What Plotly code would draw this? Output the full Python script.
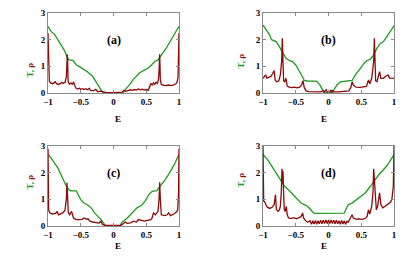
import plotly.graph_objects as go

# ---------------- data ----------------
# Panel (a)
E_T_a = [-1.0, -0.95, -0.90, -0.85, -0.80, -0.75, -0.71, -0.68, -0.62, -0.57, -0.52, -0.45, -0.40,
         -0.32, -0.27, -0.22, -0.19, -0.16, 0.0, 0.14, 0.17, 0.21, 0.25, 0.30, 0.36, 0.40, 0.47, 0.52,
         0.58, 0.63, 0.68, 0.72, 0.76, 0.80, 0.85, 0.90, 0.95, 1.0]
T_a = [2.50, 2.30, 2.20, 2.00, 1.80, 1.60, 1.35, 1.24, 1.22, 1.06, 0.99, 0.88, 0.80,
       0.63, 0.45, 0.25, 0.12, 0.0, 0.0, 0.0, 0.10, 0.20, 0.32, 0.50, 0.66, 0.76, 0.86, 0.92,
       1.05, 1.18, 1.24, 1.40, 1.52, 1.66, 1.86, 2.05, 2.27, 2.50]
E_rho_a = [-1.0, -0.995, -0.99, -0.98, -0.96, -0.93, -0.91, -0.89, -0.87, -0.84, -0.81, -0.79, -0.77,
           -0.74, -0.72, -0.71, -0.705, -0.70, -0.695, -0.69, -0.67, -0.65, -0.63, -0.61, -0.60,
           -0.58, -0.55, -0.52, -0.50, -0.47, -0.45, -0.42, -0.40, -0.37, -0.35, -0.30, -0.27,
           -0.24, -0.20, -0.16, -0.12, 0.0, 0.10, 0.13, 0.16, 0.19, 0.22, 0.26, 0.29, 0.32, 0.35,
           0.38, 0.41, 0.44, 0.47, 0.50, 0.53, 0.55, 0.57, 0.59, 0.61, 0.63, 0.65, 0.67, 0.685,
           0.695, 0.705, 0.71, 0.715, 0.73, 0.76, 0.80, 0.84, 0.88, 0.92, 0.95, 0.97, 0.985, 0.993, 1.0]
rho_a = [2.25, 1.20, 0.60, 0.45, 0.38, 0.35, 0.38, 0.42, 0.35, 0.32, 0.35, 0.40, 0.36,
         0.40, 0.60, 1.10, 1.45, 1.20, 0.60, 0.40, 0.33, 0.38, 0.33, 0.40, 0.35,
         0.20, 0.15, 0.18, 0.14, 0.16, 0.13, 0.16, 0.12, 0.17, 0.10, 0.09, 0.14,
         0.05, 0.07, 0.03, 0.02, 0.01, 0.02, 0.03, 0.10, 0.06, 0.09, 0.12, 0.10, 0.13, 0.11,
         0.15, 0.12, 0.14, 0.11, 0.13, 0.10, 0.20, 0.35, 0.30, 0.38, 0.32, 0.40, 0.36, 0.48,
         0.80, 1.45, 1.00, 0.50, 0.33, 0.29, 0.28, 0.30, 0.28, 0.30, 0.35, 0.40, 0.60, 1.20, 2.25]

# Panel (b)
E_T_b = [-1.0, -0.95, -0.90, -0.87, -0.80, -0.75, -0.70, -0.65, -0.60, -0.55, -0.50, -0.45, -0.40,
         -0.37, -0.32, -0.18, -0.13, -0.09, -0.065, 0.06, 0.08, 0.13, 0.18, 0.36, 0.41, 0.49, 0.54,
         0.59, 0.64, 0.69, 0.74, 0.79, 0.84, 0.89, 0.94, 1.0]
T_b = [2.55, 2.36, 2.18, 2.00, 1.93, 1.74, 1.49, 1.30, 1.22, 1.18, 1.05, 0.86, 0.62,
       0.47, 0.45, 0.44, 0.30, 0.11, 0.0, 0.0, 0.11, 0.30, 0.42, 0.47, 0.68, 0.93, 1.11,
       1.22, 1.27, 1.43, 1.68, 1.86, 1.93, 2.11, 2.30, 2.52]
E_rho_b = [-1.0, -0.98, -0.96, -0.94, -0.91, -0.88, -0.85, -0.83, -0.815, -0.79, -0.76, -0.735,
           -0.715, -0.705, -0.695, -0.685, -0.67, -0.65, -0.63, -0.60, -0.56, -0.52, -0.48, -0.44,
           -0.41, -0.39, -0.37, -0.34, -0.30, -0.20, -0.12, -0.08, -0.065, -0.035, -0.02, 0.0,
           0.02, 0.035, 0.05, 0.065, 0.08, 0.15, 0.25, 0.31, 0.34, 0.36, 0.38, 0.42, 0.48, 0.54,
           0.58, 0.61, 0.63, 0.66, 0.69, 0.70, 0.71, 0.72, 0.74, 0.76, 0.78, 0.80, 0.84, 0.87,
           0.91, 0.93, 0.96, 1.0]
rho_b = [0.55, 0.60, 0.68, 0.56, 0.58, 0.62, 0.74, 0.84, 0.50, 0.42, 0.45, 0.68,
         1.20, 2.05, 1.20, 0.45, 0.42, 0.55, 0.26, 0.22, 0.20, 0.22, 0.19, 0.22,
         0.30, 0.46, 0.20, 0.08, 0.05, 0.05, 0.04, 0.10, 0.03, 0.12, 0.03, 0.02,
         0.03, 0.12, 0.03, 0.10, 0.04, 0.04, 0.05, 0.08, 0.20, 0.42, 0.30, 0.22, 0.21, 0.22,
         0.25, 0.49, 0.35, 0.55, 1.20, 2.05, 1.20, 0.45, 0.42, 0.61, 0.80, 0.55, 0.55, 0.62,
         0.68, 0.56, 0.55, 0.55]

# Panel (c)
E_T_c = [-1.0, -0.95, -0.90, -0.85, -0.80, -0.75, -0.72, -0.68, -0.65, -0.57, -0.55, -0.50, -0.45,
         -0.39, -0.34, -0.29, -0.24, -0.19, -0.14, -0.12, 0.10, 0.13, 0.21, 0.28, 0.36, 0.43, 0.49,
         0.54, 0.59, 0.66, 0.71, 0.79, 0.87, 0.94, 1.0]
T_c = [2.70, 2.55, 2.36, 2.18, 1.93, 1.68, 1.49, 1.36, 1.32, 1.32, 1.24, 0.99, 0.86,
       0.78, 0.68, 0.49, 0.36, 0.24, 0.07, 0.0, 0.0, 0.14, 0.30, 0.49, 0.68, 0.78, 0.96,
       1.18, 1.30, 1.33, 1.49, 1.74, 2.05, 2.36, 2.70]
E_rho_c = [-1.0, -0.995, -0.99, -0.97, -0.93, -0.88, -0.86, -0.84, -0.80, -0.77, -0.74, -0.72, -0.71,
           -0.70, -0.69, -0.67, -0.64, -0.61, -0.57, -0.52, -0.48, -0.45, -0.42, -0.39, -0.36,
           -0.32, -0.27, -0.22, -0.19, -0.17, -0.12, 0.0, 0.10, 0.13, 0.18, 0.21, 0.26, 0.31,
           0.35, 0.38, 0.42, 0.47, 0.52, 0.57, 0.59, 0.61, 0.64, 0.68, 0.695, 0.705, 0.715, 0.73,
           0.78, 0.82, 0.84, 0.87, 0.92, 0.96, 0.98, 0.993, 1.0]
rho_c = [2.90, 1.20, 0.60, 0.49, 0.45, 0.48, 0.55, 0.42, 0.45, 0.50, 0.60, 1.00, 1.62,
         1.00, 0.50, 0.42, 0.55, 0.30, 0.24, 0.24, 0.25, 0.30, 0.26, 0.27, 0.18,
         0.15, 0.12, 0.11, 0.18, 0.06, 0.02, 0.01, 0.02, 0.05, 0.15, 0.10, 0.12, 0.18,
         0.15, 0.24, 0.20, 0.18, 0.21, 0.24, 0.30, 0.49, 0.42, 0.55, 1.00, 1.64, 1.00, 0.42,
         0.39, 0.42, 0.49, 0.39, 0.45, 0.52, 0.61, 1.20, 2.90]

# Panel (d)
E_T_d = [-1.0, -0.93, -0.85, -0.78, -0.73, -0.67, -0.62, -0.55, -0.47, -0.42, -0.37, -0.32, -0.27,
         -0.23, -0.20, 0.0, 0.24, 0.27, 0.30, 0.36, 0.43, 0.48, 0.56, 0.64, 0.69, 0.77, 0.84,
         0.92, 1.0]
T_d = [2.68, 2.49, 2.18, 1.93, 1.74, 1.49, 1.38, 1.20, 1.00, 0.86, 0.80, 0.74, 0.61,
       0.49, 0.47, 0.47, 0.48, 0.65, 0.80, 0.86, 0.99, 1.11, 1.24, 1.49, 1.66, 1.93, 2.11,
       2.36, 2.68]
E_rho_d = [-1.0, -0.995, -0.99, -0.97, -0.94, -0.90, -0.86, -0.83, -0.81, -0.795, -0.77, -0.75,
           -0.735, -0.72, -0.71, -0.70, -0.695, -0.685, -0.675, -0.66, -0.645, -0.63, -0.61, -0.57,
           -0.53, -0.49, -0.45, -0.42, -0.395, -0.38, -0.35, -0.32, -0.28, -0.26, -0.24, -0.22,
           -0.20, -0.18, -0.16, -0.14, -0.12, -0.10, -0.08, -0.06, -0.04, -0.02, 0.0, 0.02, 0.04,
           0.06, 0.08, 0.10, 0.12, 0.14, 0.16, 0.18, 0.20, 0.22, 0.24, 0.26, 0.28, 0.30, 0.33,
           0.36, 0.38, 0.42, 0.47, 0.52, 0.57, 0.59, 0.61, 0.63, 0.66, 0.68, 0.69, 0.70, 0.705,
           0.715, 0.73, 0.75, 0.78, 0.80, 0.83, 0.87, 0.91, 0.95, 0.97, 0.99, 1.0]
rho_d = [3.00, 1.50, 0.95, 0.88, 0.72, 0.66, 0.70, 0.80, 1.18, 0.62, 0.55, 0.60,
         0.74, 1.30, 2.15, 1.60, 2.05, 1.20, 0.61, 0.55, 0.74, 0.42, 0.30, 0.28,
         0.31, 0.27, 0.32, 0.35, 0.49, 0.30, 0.20, 0.14, 0.20, 0.06, 0.20, 0.07,
         0.21, 0.06, 0.20, 0.08, 0.22, 0.08, 0.22, 0.09, 0.23, 0.09, 0.23, 0.09, 0.23,
         0.09, 0.22, 0.08, 0.22, 0.08, 0.20, 0.06, 0.21, 0.07, 0.20, 0.06, 0.18, 0.14, 0.28,
         0.42, 0.30, 0.26, 0.27, 0.25, 0.30, 0.36, 0.61, 0.45, 0.74, 1.30, 2.15, 1.70, 1.90,
         1.00, 0.61, 0.74, 1.24, 0.80, 0.68, 0.75, 0.84, 0.90, 1.05, 1.50, 3.00]

panel_labels = ["(a)", "(b)", "(c)", "(d)"]
x_tickvals = [-1, -0.5, 0, 0.5, 1]
x_ticktext = ["\u22121", "\u22120.5", "0", "0.5", "1"]
y_tickvals = [0, 1, 2, 3]
y_ticktext = ["0", "1", "2", "3"]

# ---------------- figure ----------------
W, H = 417, 259
OFF = 8  # page body margin offset
GREEN = "#1e9a1e"
RED = "#8b0a0a"
FONT = "Liberation Serif"

panels = [
    (E_T_a, T_a, E_rho_a, rho_a),
    (E_T_b, T_b, E_rho_b, rho_b),
    (E_T_c, T_c, E_rho_c, rho_c),
    (E_T_d, T_d, E_rho_d, rho_d),
]
# pixel boxes in window coords (left, right, top, bottom)
boxes = [(48, 179, 13, 93), (263, 394, 13, 93), (48, 179, 146, 226), (263, 394, 146, 226)]
ytitle_pos = [(22, 61), (240, 52), (22, 192), (240, 190)]
etitle_gap = [26, 26, 27, 27]

fig = go.Figure()
layout = dict(
    template="none",
    width=W, height=H, margin=dict(l=0, r=0, t=0, b=0, pad=0, autoexpand=False),
    paper_bgcolor="white", plot_bgcolor="white", showlegend=False,
    annotations=[],
)

for i, ((et, t, er, r), (l, rr, tp, bt)) in enumerate(zip(panels, boxes)):
    l, rr, tp, bt = l - OFF, rr - OFF, tp - OFF, bt - OFF
    n = "" if i == 0 else str(i + 1)
    xa, ya = "x" + n, "y" + n
    fig.add_trace(go.Scatter(x=et, y=t, mode="lines", line=dict(color=GREEN, width=1.3),
                             xaxis=xa, yaxis=ya))
    fig.add_trace(go.Scatter(x=er, y=r, mode="lines", line=dict(color=RED, width=1.3),
                             xaxis=xa, yaxis=ya))
    common = dict(showline=True, linecolor="#8a8a8a", linewidth=1, mirror="ticks",
                  ticks="inside", ticklen=3, tickcolor="#8a8a8a", showgrid=False,
                  zeroline=False, fixedrange=True, automargin=False,
                  tickfont=dict(family=FONT, size=9, color="black", weight="bold"))
    layout["xaxis" + n] = dict(domain=[l / W, rr / W], range=[-1, 1], anchor=ya,
                               tickvals=x_tickvals, ticktext=x_ticktext, **common)
    layout["yaxis" + n] = dict(domain=[1 - bt / H, 1 - tp / H], range=[0, 3], anchor=xa,
                               tickvals=y_tickvals, ticktext=y_ticktext, **common)
    # panel label
    layout["annotations"].append(dict(x=0, y=2.0, xref=xa, yref=ya, text="<b>%s</b>" % panel_labels[i],
                                      showarrow=False, font=dict(family=FONT, size=12, color="black")))
    # x title
    layout["annotations"].append(dict(x=(l + rr) / 2 / W, y=1 - (bt + etitle_gap[i]) / H,
                                      xref="paper", yref="paper",
                                      text="<b>E</b>", showarrow=False,
                                      font=dict(family=FONT, size=9, color="black")))
    # y title
    px, py = ytitle_pos[i]
    px, py = px - OFF, py - OFF
    layout["annotations"].append(dict(x=px / W, y=1 - py / H, xref="paper", yref="paper",
                                      text="<b><span style='color:%s'>T, </span><span style='color:%s'>\u03c1</span></b>" % (GREEN, RED),
                                      textangle=-90, showarrow=False,
                                      font=dict(family=FONT, size=9, color=GREEN)))

fig.update_layout(**layout)
fig.write_html("out.html")
